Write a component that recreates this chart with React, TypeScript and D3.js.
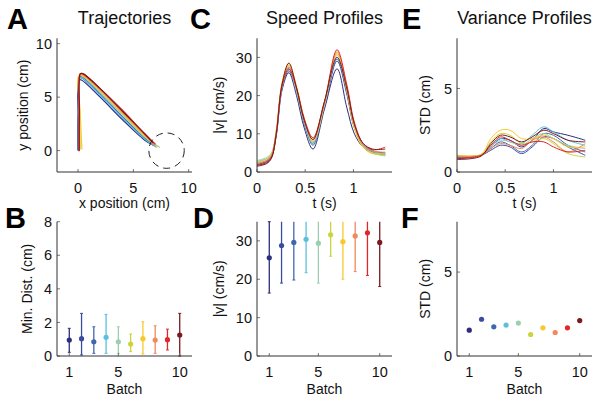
import React from 'react'
import * as d3 from 'd3'

const FONT = "'Liberation Sans', Arial, Helvetica, sans-serif"

// batch 1..10 colours (blue -> red)
const batches = [1, 2, 3, 4, 5, 6, 7, 8, 9, 10]
const batchColors = ['#2c2d7c', '#3a4c9e', '#4266ae', '#5cbfe0', '#9ccfb0', '#c8d63c', '#f7c92e', '#f08a5c', '#e2262c', '#7a1a1e']

// A: hand trajectories, [x, y] in cm
const trajectories: [number, number][][] = [
  [[0, 0], [0.0, 3.4], [0.1, 6.6], [0.3, 6.6], [2, 5.0], [4, 2.9], [6, 1.0], [6.8, 0.5]],
  [[0.05, 0], [0.05, 3.5], [0.12, 6.8], [0.32, 6.8], [2, 5.2], [4, 3.1], [6, 1.1], [6.9, 0.45]],
  [[0, 0.05], [0.05, 3.5], [0.15, 6.9], [0.35, 6.9], [2, 5.3], [4, 3.2], [6, 1.2], [7.0, 0.4]],
  [[0.05, 0], [0.08, 3.5], [0.15, 6.8], [0.35, 6.8], [2, 5.2], [4, 3.1], [6, 1.1], [7.1, 0.3]],
  [[0.1, 0.1], [0.1, 3.5], [0.15, 7.0], [0.35, 7.0], [2, 5.5], [4, 3.4], [6, 1.3], [7.4, 0.3]],
  [[0.2, 0.1], [0.15, 3.5], [0.1, 7.0], [0.35, 7.0], [2, 5.6], [4, 3.5], [6, 1.4], [7.2, 0.35]],
  [[0.35, 0.1], [0.2, 3.5], [0.05, 7.0], [0.3, 7.1], [2, 5.6], [4, 3.5], [6, 1.4], [7.1, 0.4]],
  [[0.1, 0], [0.1, 3.6], [0.18, 7.1], [0.4, 7.1], [2, 5.7], [4, 3.6], [6, 1.5], [7.0, 0.5]],
  [[0.1, 0], [0.1, 3.6], [0.2, 7.2], [0.4, 7.2], [2, 5.8], [4, 3.8], [6, 1.6], [7.0, 0.6]],
  [[0.1, -0.05], [0.12, 3.6], [0.22, 7.2], [0.45, 7.2], [2, 5.8], [4, 3.7], [6, 1.6], [6.8, 0.7]],
]
const targetCenter: [number, number] = [8, 0]
const targetRadius = 1.6

// C: speed profiles |v| (cm/s)
const speedTimes = [0, 0.1, 0.15, 0.2, 0.26, 0.33, 0.41, 0.49, 0.58, 0.7, 0.83, 0.93, 1.01, 1.1, 1.2, 1.33]
const speedProfiles = [
  [1.8, 2.4, 3.8, 9.5, 21.5, 26.0, 20.0, 11.5, 6.0, 16.5, 27.0, 17.0, 10.0, 6.5, 5.0, 4.5],
  [2.0, 2.8, 4.2, 10.0, 22.0, 26.5, 21.0, 12.5, 7.5, 17.0, 29.0, 20.5, 11.5, 7.0, 5.5, 5.0],
  [2.3, 3.0, 4.4, 10.5, 22.5, 27.0, 21.5, 13.0, 7.0, 17.5, 29.5, 21.0, 12.0, 7.0, 5.2, 4.8],
  [2.8, 3.5, 4.8, 10.0, 22.0, 27.5, 21.5, 13.0, 8.0, 17.5, 30.0, 21.5, 12.5, 7.2, 5.5, 4.5],
  [3.0, 3.8, 5.0, 10.5, 22.5, 27.0, 21.0, 13.0, 7.5, 17.5, 30.5, 22.0, 12.5, 7.0, 5.0, 4.2],
  [2.5, 3.3, 4.6, 10.5, 23.0, 28.0, 22.0, 13.5, 8.5, 18.0, 31.0, 22.0, 12.0, 6.5, 4.8, 4.5],
  [2.6, 3.4, 4.5, 11.0, 23.5, 28.5, 22.5, 14.0, 8.0, 18.0, 31.0, 21.5, 11.5, 6.5, 5.0, 4.8],
  [2.2, 3.0, 4.3, 10.5, 23.0, 27.5, 22.0, 13.5, 8.5, 18.0, 31.5, 22.5, 12.5, 7.0, 5.5, 5.2],
  [1.8, 2.6, 4.0, 10.0, 22.5, 27.0, 22.0, 14.0, 9.0, 18.5, 32.0, 23.0, 13.0, 7.5, 5.8, 6.5],
  [1.5, 2.2, 3.6, 10.0, 23.0, 28.5, 22.0, 13.5, 8.5, 18.5, 30.0, 22.0, 12.5, 7.5, 6.0, 6.0],
]

// E: variance profiles STD (cm)
const varTimes = [0, 0.25, 0.35, 0.45, 0.55, 0.67, 0.78, 0.9, 1.0, 1.15, 1.33]
const varProfiles = [
  [0.8, 1.0, 1.5, 2.0, 1.9, 1.5, 1.9, 2.6, 2.4, 2.2, 1.9],
  [0.9, 1.0, 1.3, 1.6, 1.5, 1.1, 1.5, 2.1, 2.0, 1.5, 1.0],
  [0.85, 1.0, 1.4, 1.8, 1.6, 1.2, 1.6, 2.3, 2.2, 1.6, 1.2],
  [0.9, 1.0, 1.6, 2.0, 1.8, 1.7, 2.2, 2.7, 2.4, 1.9, 1.6],
  [0.9, 1.0, 1.5, 1.9, 1.8, 1.6, 2.0, 2.3, 2.0, 1.6, 1.4],
  [1.0, 1.05, 1.8, 2.3, 2.2, 1.7, 1.8, 2.0, 1.7, 1.1, 0.9],
  [1.0, 1.05, 2.0, 2.5, 2.5, 2.0, 2.0, 2.2, 2.0, 1.5, 1.5],
  [0.95, 1.0, 1.4, 1.7, 1.6, 1.4, 1.9, 2.1, 1.8, 1.2, 1.7],
  [0.85, 1.0, 1.6, 2.1, 1.9, 1.6, 1.8, 1.8, 1.5, 1.2, 1.3],
  [0.75, 0.95, 1.7, 2.2, 2.1, 1.8, 2.1, 2.5, 2.3, 1.9, 1.8],
]

// B: min distance to target per batch
const minDistMean = [0.95, 1.03, 0.85, 1.11, 0.85, 0.71, 1.03, 0.95, 0.97, 1.25]
const minDistLow = [0.22, 0.06, 0.16, 0.16, 0.16, 0.26, 0.12, 0.16, 0.36, 0.0]
const minDistHigh = [1.65, 2.54, 1.74, 2.48, 1.74, 1.31, 2.04, 1.8, 1.6, 2.54]

// D: peak speed per batch
const peakMean = [25.6, 28.8, 29.6, 30.4, 29.4, 31.6, 29.8, 31.3, 32.1, 29.6]
const peakLow = [16.4, 19.0, 19.8, 21.7, 19.0, 26.0, 20.0, 22.0, 21.0, 18.1]
const peakHigh = [35, 38, 39, 39, 40, 37, 40, 41, 43, 41]

// F: mean STD per batch
const stdMean = [1.54, 2.19, 1.74, 1.84, 1.96, 1.28, 1.68, 1.40, 1.68, 2.11]

type Scale = d3.ScaleLinear<number, number>

function Axes({ x, y, xTicks, yTicks, xLabel, yLabel, yLabelX, xLabelDy }: {
  x: Scale, y: Scale, xTicks: number[], yTicks: number[], xLabel: string, yLabel: string, yLabelX: number, xLabelDy: number
}) {
  const [x0, x1] = x.range()
  const [y0, y1] = y.range()
  return (
    <g fontFamily={FONT} fill="#111">
      {xTicks.map(t => (
        <g key={'x' + t}>
          <line x1={x(t)} x2={x(t)} y1={y0} y2={y0 - 3} stroke="#777" />
          <text x={x(t)} y={y0 + 21} textAnchor="middle" fontSize={14.5}>{String(t)}</text>
        </g>
      ))}
      {yTicks.map(t => (
        <g key={'y' + t}>
          <line x1={x0} x2={x0 + 3} y1={y(t)} y2={y(t)} stroke="#777" />
          <text x={x0 - 5} y={y(t)} dy="0.36em" textAnchor="end" fontSize={14.5}>{String(t)}</text>
        </g>
      ))}
      <line x1={x0} x2={x1} y1={y0} y2={y0} stroke="#333" />
      <line x1={x0} x2={x0} y1={y0} y2={y1} stroke="#333" />
      <text x={(x0 + x1) / 2} y={y0 + xLabelDy} textAnchor="middle" fontSize={14}>{xLabel}</text>
      <text transform={`translate(${yLabelX},${(y0 + y1) / 2}) rotate(-90)`} textAnchor="middle" fontSize={14}>{yLabel}</text>
    </g>
  )
}

function Letter({ x, y, children }: { x: number, y: number, children: string }) {
  return <text x={x} y={y} fontFamily={FONT} fontWeight="bold" fontSize={29} fill="#000">{children}</text>
}

function Title({ x, children }: { x: Scale, children: string }) {
  const [x0, x1] = x.range()
  return <text x={(x0 + x1) / 2} y={24} textAnchor="middle" fontFamily={FONT} fontSize={18} fill="#111">{children}</text>
}

function ErrorDots({ x, y, mean, low, high }: { x: Scale, y: Scale, mean: number[], low: number[], high: number[] }) {
  return (
    <g>
      {batches.map((b, i) => {
        const c = batchColors[i]
        const top = y(Math.min(high[i], y.domain()[1]))
        const bot = y(Math.max(low[i], y.domain()[0]))
        return (
          <g key={b}>
            <line x1={x(b)} x2={x(b)} y1={top} y2={bot} stroke={c} strokeWidth={1.3} />
            {high[i] <= y.domain()[1] && <line x1={x(b) - 1.5} x2={x(b) + 1.5} y1={top} y2={top} stroke={c} />}
            <line x1={x(b) - 1.5} x2={x(b) + 1.5} y1={bot} y2={bot} stroke={c} />
            <circle cx={x(b)} cy={y(mean[i])} r={2.6} fill={c} />
          </g>
        )
      })}
    </g>
  )
}

export default function App() {
  const topY = [172, 38.3]
  const botY = [356, 221.7]

  const xA = d3.scaleLinear().domain([-1.9, 10.3]).range([57, 192])
  const yA = d3.scaleLinear().domain([-2, 10.5]).range(topY)
  const xC = d3.scaleLinear().domain([0, 1.4]).range([257, 392])
  const yC = d3.scaleLinear().domain([0, 35]).range(topY)
  const xE = d3.scaleLinear().domain([0, 1.4]).range([457, 592])
  const yE = d3.scaleLinear().domain([0, 8]).range(topY)
  const xB = d3.scaleLinear().domain([0, 11]).range([57, 192])
  const yB = d3.scaleLinear().domain([0, 8]).range(botY)
  const xD = d3.scaleLinear().domain([0, 11]).range([257, 392])
  const yD = d3.scaleLinear().domain([0, 35]).range(botY)
  const xF = d3.scaleLinear().domain([0, 11]).range([457, 592])
  const yF = d3.scaleLinear().domain([0, 8]).range(botY)

  const trajLine = d3.line<[number, number]>().x(d => xA(d[0])).y(d => yA(d[1])).curve(d3.curveCatmullRom.alpha(0.5))
  const speedLine = d3.line<number>().x((_, i) => xC(speedTimes[i])).y(d => yC(d)).curve(d3.curveCatmullRom.alpha(0.5))
  const varLine = d3.line<number>().x((_, i) => xE(varTimes[i])).y(d => yE(d)).curve(d3.curveCatmullRom.alpha(0.5))

  return (
    <svg width={600} height={402} style={{ position: 'absolute', left: 0, top: 0, background: '#fff' }}>
      <rect width={600} height={402} fill="#fff" />

      {/* A */}
      <Letter x={7} y={29}>A</Letter>
      <Title x={xA}>Trajectories</Title>
      {trajectories.map((t, i) => (
        <path key={i} d={trajLine(t) || ''} fill="none" stroke={batchColors[i]} strokeWidth={1.2} />
      ))}
      <circle cx={xA(targetCenter[0])} cy={yA(targetCenter[1])} r={xA(targetRadius) - xA(0)} fill="none" stroke="#222" strokeDasharray="7,5" strokeWidth={1} />
      <Axes x={xA} y={yA} xTicks={[0, 5, 10]} yTicks={[0, 5, 10]} xLabel="x position (cm)" yLabel="y position (cm)" yLabelX={28} xLabelDy={36} />

      {/* C */}
      <Letter x={190} y={29}>C</Letter>
      <Title x={xC}>Speed Profiles</Title>
      {speedProfiles.map((s, i) => (
        <path key={i} d={speedLine(s) || ''} fill="none" stroke={batchColors[i]} strokeWidth={1} />
      ))}
      <Axes x={xC} y={yC} xTicks={[0, 0.5, 1]} yTicks={[0, 10, 20, 30]} xLabel="t (s)" yLabel="|v| (cm/s)" yLabelX={224} xLabelDy={36} />

      {/* E */}
      <Letter x={402} y={29}>E</Letter>
      <Title x={xE}>Variance Profiles</Title>
      {varProfiles.map((s, i) => (
        <path key={i} d={varLine(s) || ''} fill="none" stroke={batchColors[i]} strokeWidth={1} />
      ))}
      <Axes x={xE} y={yE} xTicks={[0, 0.5, 1]} yTicks={[0, 5]} xLabel="t (s)" yLabel="STD (cm)" yLabelX={430} xLabelDy={36} />

      {/* B */}
      <Letter x={5} y={228}>B</Letter>
      <ErrorDots x={xB} y={yB} mean={minDistMean} low={minDistLow} high={minDistHigh} />
      <Axes x={xB} y={yB} xTicks={[1, 5, 10]} yTicks={[0, 2, 4, 6, 8]} xLabel="Batch" yLabel="Min. Dist. (cm)" yLabelX={32} xLabelDy={38} />

      {/* D */}
      <Letter x={193} y={228}>D</Letter>
      <ErrorDots x={xD} y={yD} mean={peakMean} low={peakLow} high={peakHigh} />
      <Axes x={xD} y={yD} xTicks={[1, 5, 10]} yTicks={[0, 10, 20, 30]} xLabel="Batch" yLabel="|v| (cm/s)" yLabelX={224} xLabelDy={38} />

      {/* F */}
      <Letter x={401} y={228}>F</Letter>
      {batches.map((b, i) => (
        <circle key={b} cx={xF(b)} cy={yF(stdMean[i])} r={2.6} fill={batchColors[i]} />
      ))}
      <Axes x={xF} y={yF} xTicks={[1, 5, 10]} yTicks={[0, 5]} xLabel="Batch" yLabel="STD (cm)" yLabelX={430} xLabelDy={38} />
    </svg>
  )
}
